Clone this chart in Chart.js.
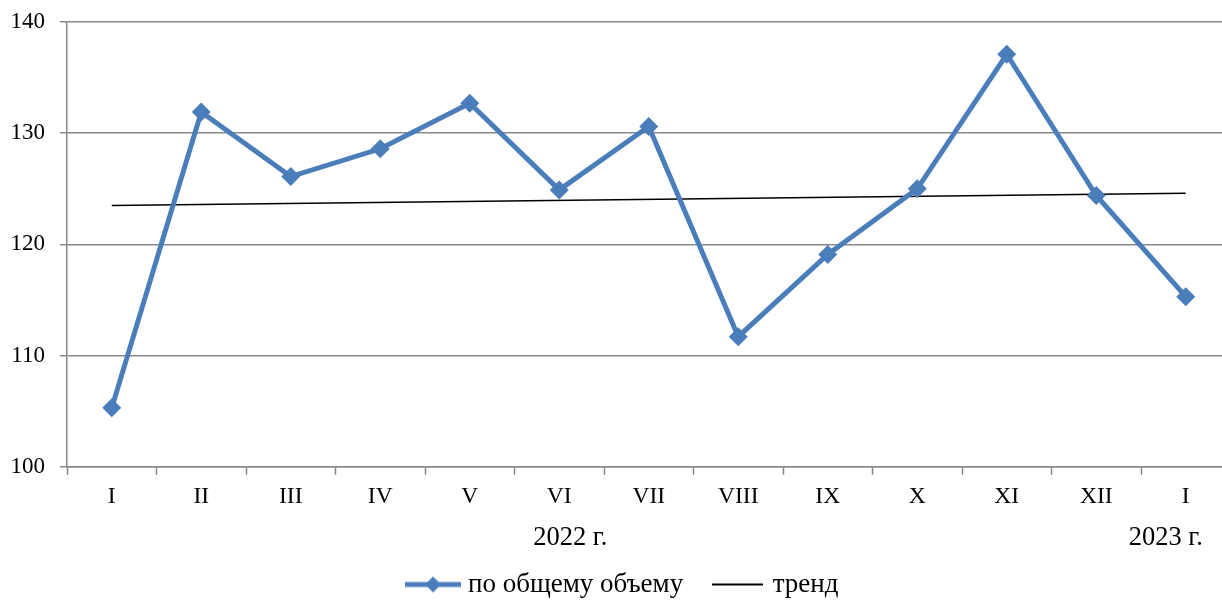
<!DOCTYPE html>
<html>
<head>
<meta charset="utf-8">
<script src="https://cdn.jsdelivr.net/npm/chart.js@4"></script>
<style>
  html, body { margin: 0; padding: 0; background: #fff; overflow: hidden; }
</style>
</head>
<body>
<!-- the source chart is cut off on the right, so the canvas is a bit wider than the window -->
<canvas id="chart" width="1240" height="600"></canvas>
<script>
const months = ['I', 'II', 'III', 'IV', 'V', 'VI', 'VII', 'VIII', 'IX', 'X', 'XI', 'XII', 'I'];
const volumeValues = [105.3, 131.9, 126.1, 128.6, 132.7, 124.9, 130.6, 111.7, 119.1, 125.0, 137.1, 124.4, 115.3];
const trendValues = [123.5, null, null, null, null, null, null, null, null, null, null, null, 124.6];
const yearLabels = ['2022 г.', '2023 г.'];
const yearIndex = [5, 12];
const yTicks = [100, 110, 120, 130, 140];

const FONT = 'Liberation Serif, Times New Roman, serif';
const BLUE = '#4A7EBB';
const GRID = '#888888';

// legend marker: line with a diamond, like the Excel legend
function lineMarker(withDiamond, color, width, len) {
    const c = document.createElement('canvas');
    c.width = len; c.height = 18;
    const g = c.getContext('2d');
    g.strokeStyle = color;
    g.lineWidth = width;
    g.beginPath();
    g.moveTo(0, 9); g.lineTo(len, 9);
    g.stroke();
    if (withDiamond) {
        const m = len / 2;
        g.fillStyle = color;
        g.beginPath();
        g.moveTo(m, 1); g.lineTo(m + 8, 9); g.lineTo(m, 17); g.lineTo(m - 8, 9);
        g.closePath();
        g.fill();
    }
    return c;
}

const yearLabelPlugin = {
    id: 'yearLabels',
    afterDraw(chart) {
        const x = chart.scales.x;
        const ctx = chart.ctx;
        ctx.save();
        ctx.font = '26.5px ' + FONT;
        ctx.fillStyle = '#000';
        ctx.textBaseline = 'middle';
        ctx.textAlign = 'center';
        ctx.fillText(yearLabels[0], x.getPixelForValue(yearIndex[0]) + 11, 538);
        ctx.fillText(yearLabels[1], x.getPixelForValue(yearIndex[1]) - 20, 538);
        ctx.restore();
    }
};

const markers = [lineMarker(true, BLUE, 5, 56), lineMarker(false, '#000', 2, 51)];

new Chart(document.getElementById('chart'), {
    type: 'line',
    data: {
        labels: months,
        datasets: [{
            label: 'по общему объему',
            data: volumeValues,
            borderColor: BLUE,
            backgroundColor: BLUE,
            borderWidth: 5,
            pointStyle: 'rectRot',
            pointRadius: 9.5,
            pointBorderWidth: 0,
            tension: 0
        }, {
            label: 'тренд',
            data: trendValues,
            borderColor: '#000',
            backgroundColor: '#000',
            borderWidth: 1.5,
            pointRadius: 0,
            spanGaps: true
        }]
    },
    options: {
        responsive: false,
        animation: false,
        layout: { padding: { left: 10, right: 0, top: 22, bottom: -8 } },
        plugins: {
            tooltip: { enabled: false },
            legend: {
                position: 'bottom',
                labels: {
                    font: { family: FONT, size: 27, lineHeight: 1 },
                    color: '#000',
                    usePointStyle: true,
                    pointStyleWidth: 43,
                    padding: 33,
                    generateLabels(chart) {
                        return chart.data.datasets.map((ds, i) => ({
                            text: ds.label,
                            pointStyle: markers[i],
                            fillStyle: ds.borderColor,
                            strokeStyle: ds.borderColor,
                            lineWidth: 0,
                            hidden: false,
                            datasetIndex: i,
                            fontColor: '#000'
                        }));
                    }
                }
            }
        },
        scales: {
            x: {
                offset: true,
                grid: { display: true, drawOnChartArea: false, offset: true, color: GRID, tickLength: 8, tickWidth: 1.5 },
                border: { color: GRID, width: 1.5 },
                ticks: { font: { family: FONT, size: 23.5 }, color: '#000', padding: 8, maxRotation: 0, autoSkip: false },
                afterFit(scale) {
                    scale.height += 19;
                    scale.paddingLeft = 0;
                    scale.paddingRight = 0;
                }
            },
            y: {
                min: yTicks[0],
                max: yTicks[yTicks.length - 1],
                afterBuildTicks(scale) { scale.ticks = yTicks.map(v => ({ value: v })); },
                grid: { color: GRID, lineWidth: 1.5, tickLength: 7 },
                border: { color: GRID, width: 1.5 },
                ticks: { font: { family: FONT, size: 23 }, color: '#000', padding: 15 },
                afterFit(scale) {
                    scale.width = 57;
                    scale.paddingTop = 0;
                    scale.paddingBottom = 0;
                }
            }
        }
    },
    plugins: [yearLabelPlugin]
});
</script>
</body>
</html>
